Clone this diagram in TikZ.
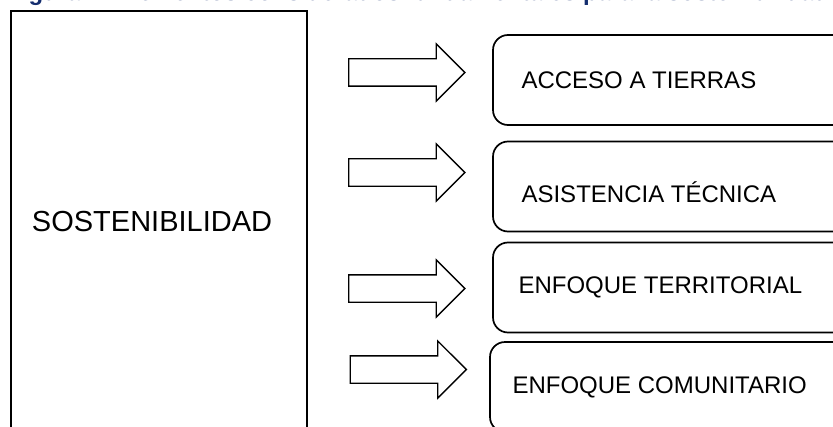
\documentclass[tikz,border=0pt]{standalone}
\usepackage{fontspec}
\setmainfont{Liberation Sans}
\usetikzlibrary{positioning,shapes.arrows}
\definecolor{tituloazul}{RGB}{20,45,110}
\begin{document}
\begin{tikzpicture}[x=0.5pt, y=-0.5pt,
    mainbox/.style={draw, line width=1pt, minimum width=148pt, minimum height=219pt, inner sep=0pt},
    itembox/.style={draw, line width=0.85pt, rounded corners=7.5pt, minimum width=200pt, minimum height=45pt, inner sep=0pt},
    itemtext/.style={font=\fontsize{12pt}{14pt}\selectfont, inner sep=0pt},
    flecha/.style={single arrow, draw, line width=0.65pt, minimum height=58pt, minimum width=28pt, single arrow head extend=7.5pt, inner xsep=0pt, inner ysep=6.5pt}]
    \useasboundingbox (0,0) rectangle (833,427);
    \clip (0,0) rectangle (833,427);
    \node[anchor=base west, inner sep=0pt, text=tituloazul, font=\bfseries\fontsize{12pt}{14pt}\selectfont] (titulo) at (7,1) {Figura 4. Elementos considerados fundamentales para la sostenibilidad}; %% cut off at the top
    \node[mainbox] (sost) at (159,230) {};
    \node[inner sep=0pt, font=\fontsize{14.5pt}{17pt}\selectfont] (sosttxt) at (152,222) {SOSTENIBILIDAD};
    \node[flecha] (f1) at (400,72.5) {}; %% 1
    \node[flecha] (f2) at (400,172.5) {}; %% 2
    \node[flecha] (f3) at (400,288.5) {}; %% 3
    \node[flecha] (f4) at (401.5,369.5) {}; %% 4
    \node[itembox] (acceso) at (693,80) {};
    \node[itembox] (asistencia) at (693,186.5) {};
    \node[itembox] (territorial) at (693,287.5) {};
    \node[itembox] (comunitario) at (690,387) {};
    \node[itemtext, right=14.5pt of acceso.west] (accesotxt) {ACCESO A TIERRAS};
    \node[itemtext, right=14.5pt of asistencia.west, yshift=-3pt] (asistenciatxt) {ASISTENCIA TÉCNICA};
    \node[itemtext, right=13pt of territorial.west] (territorialtxt) {ENFOQUE TERRITORIAL};
    \node[itemtext, right=11.5pt of comunitario.west] (comunitariotxt) {ENFOQUE COMUNITARIO};
\end{tikzpicture}
\end{document}
